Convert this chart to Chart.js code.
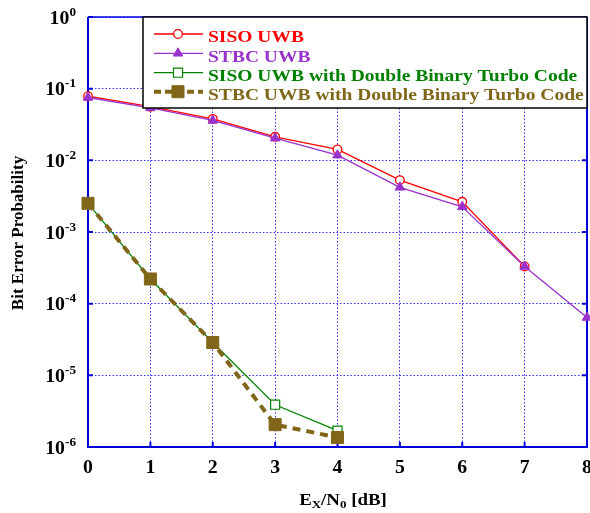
<!DOCTYPE html>
<html>
<head>
<meta charset="utf-8">
<script src="https://cdn.jsdelivr.net/npm/chart.js@4.4.1/dist/chart.umd.min.js"></script>
<style>
  html, body { margin: 0; padding: 0; background: #fff; }
  canvas { display: block; }
</style>
</head>
<body>
<canvas id="ber" width="590" height="513"></canvas>
<script>
// Eb/N0 in dB (x axis)
var snrDb = [0, 1, 2, 3, 4, 5, 6, 7, 8];

// bit error probability
var sisoUwb = [0.0785, 0.056, 0.0379, 0.0213, 0.0142, 0.0053, 0.00264, 0.00033];
var stbcUwb = [0.0753, 0.054, 0.036, 0.0204, 0.0118, 0.0042, 0.00225, 0.00033, 0.000064];
var sisoTurbo = [0.00251, 0.000221, 0.0000287, 0.00000389, 0.00000169];
var stbcTurbo = [0.00251, 0.000221, 0.0000287, 0.00000205, 0.00000136];

var seriesNames = [
  "SISO UWB",
  "STBC UWB",
  "SISO UWB with Double Binary Turbo Code",
  "STBC UWB with Double Binary Turbo Code"
];

var xTicks = [0, 1, 2, 3, 4, 5, 6, 7, 8];
var xTickLabels = ["0", "1", "2", "3", "4", "5", "6", "7", "8"];
var yTicks = [1e-6, 1e-5, 1e-4, 1e-3, 1e-2, 1e-1, 1];
var yTickExps = ["-6", "-5", "-4", "-3", "-2", "-1", "0"];

var SERIF = '"Liberation Serif", "Times New Roman", serif';
var AXIS_BLUE = "#0000dd";

var toPoints = function( values ){
    return values.map(function( v, i ){ return { x: snrDb[i], y: v }; });
};

// text with a little horizontal stretch, like the original figure
var drawText = function( ctx, text, x, y, font, sx, align ){
    ctx.save();
    ctx.font = font;
    var w = ctx.measureText( text ).width * sx;
    var left = x;
    if ( align === "center" ) left = x - w / 2;
    if ( align === "right" ) left = x - w;
    ctx.translate( left, y );
    ctx.scale( sx, 1 );
    ctx.textAlign = "left";
    ctx.textBaseline = "alphabetic";
    ctx.fillText( text, 0, 0 );
    ctx.restore();
    return w;
};

var textWidth = function( ctx, text, font, sx ){
    ctx.save();
    ctx.font = font;
    var w = ctx.measureText( text ).width * sx;
    ctx.restore();
    return w;
};

var figurePlugin = {
    id: "figure",
    beforeDatasetsDraw: function( chart ){
        var ctx = chart.ctx, a = chart.chartArea;
        var xs = chart.scales.x, ys = chart.scales.y;
        ctx.save();
        ctx.strokeStyle = AXIS_BLUE;
        ctx.setLineDash([]);
        // frame
        ctx.lineWidth = 1.5;
        ctx.beginPath(); ctx.moveTo( a.left, a.top ); ctx.lineTo( a.right, a.top ); ctx.stroke();
        ctx.lineWidth = 2;
        ctx.beginPath();
        ctx.moveTo( a.left, a.top ); ctx.lineTo( a.left, a.bottom ); ctx.lineTo( a.right, a.bottom ); ctx.lineTo( a.right, a.top );
        ctx.stroke();
        // inward tick marks
        xTicks.forEach(function( v ){
            var px = xs.getPixelForValue( v );
            ctx.beginPath();
            ctx.moveTo( px, a.bottom ); ctx.lineTo( px, a.bottom - 5 );
            ctx.moveTo( px, a.top ); ctx.lineTo( px, a.top + 5 );
            ctx.stroke();
        });
        yTicks.forEach(function( v ){
            var py = ys.getPixelForValue( v );
            ctx.beginPath();
            ctx.moveTo( a.left, py ); ctx.lineTo( a.left + 5, py );
            ctx.moveTo( a.right, py ); ctx.lineTo( a.right - 5, py );
            ctx.stroke();
        });
        ctx.restore();
    },
    afterDraw: function( chart ){
        var ctx = chart.ctx, a = chart.chartArea;
        var xs = chart.scales.x, ys = chart.scales.y;
        ctx.save();
        ctx.fillStyle = "#000";

        // y tick labels 10^n
        var baseFont = "bold 18px " + SERIF;
        var expFont = "bold 12px " + SERIF;
        yTicks.forEach(function( v, i ){
            var py = ys.getPixelForValue( v );
            var ew = textWidth( ctx, yTickExps[i], expFont, 1.1 );
            var bw = textWidth( ctx, "10", baseFont, 1.1 );
            var right = a.left - 12;
            drawText( ctx, "10", right - ew - bw, py + 6.5, baseFont, 1.1, "left" );
            drawText( ctx, yTickExps[i], right - ew, py - 1.5, expFont, 1.1, "left" );
        });

        // x tick labels
        xTicks.forEach(function( v, i ){
            var px = xs.getPixelForValue( v );
            drawText( ctx, xTickLabels[i], px, a.bottom + 26, "bold 18px " + SERIF, 1.1, "center" );
        });

        // x title: E_X/N_0 [dB]
        var tf = "bold 16px " + SERIF, sf = "bold 11px " + SERIF, sx = 1.18;
        var parts = [ ["E", tf, 0], ["X", sf, 3], ["/N", tf, 0], ["0", sf, 3], [" [dB]", tf, 0] ];
        var total = 0;
        parts.forEach(function( p ){ total += textWidth( ctx, p[0], p[1], sx ); });
        var cx = 343 - total / 2;
        parts.forEach(function( p ){
            cx += drawText( ctx, p[0], cx, 505 + p[2], p[1], sx, "left" );
        });

        // y title
        ctx.save();
        ctx.translate( 23, 233 );
        ctx.rotate( -Math.PI / 2 );
        ctx.font = "bold 17px " + SERIF;
        ctx.textAlign = "center";
        ctx.textBaseline = "alphabetic";
        ctx.fillText( "Bit Error Probability", 0, 0 );
        ctx.restore();

        // legend box
        var bx = 143, by = a.top, bw2 = a.right - 143, bh = 91;
        ctx.fillStyle = "#fff";
        ctx.fillRect( bx, by, bw2, bh );
        ctx.strokeStyle = "#000";
        ctx.lineWidth = 1.5;
        ctx.strokeRect( bx, by, bw2, bh );

        var rows = [ 34, 53.3, 72.7, 91.7 ];
        var legendOrder = [ 0, 1, 2, 3 ];
        legendOrder.forEach(function( di, r ){
            var ds = chart.data.datasets[di];
            var ly = rows[r];
            ctx.save();
            ctx.strokeStyle = ds.borderColor;
            ctx.lineWidth = ds.borderWidth;
            ctx.setLineDash( ds.legendDash || [] );
            ctx.beginPath(); ctx.moveTo( 154, ly ); ctx.lineTo( 203, ly ); ctx.stroke();
            ctx.setLineDash([]);
            ctx.fillStyle = ds.pointBackgroundColor;
            ctx.strokeStyle = ds.pointBorderColor;
            ctx.lineWidth = ds.pointBorderWidth;
            Chart.helpers.drawPoint( ctx, {
                pointStyle: ds.pointStyle, radius: ds.pointRadius, rotation: 0, borderWidth: ds.pointBorderWidth
            }, 178, ly );
            ctx.restore();
            ctx.fillStyle = ds.borderColor;
            drawText( ctx, ds.label, 208, ly + 8.3, "bold 16px " + SERIF, 1.22, "left" );
        });
        ctx.restore();
    }
};

var ctx = document.getElementById( "ber" ).getContext( "2d" );
var chart = new Chart( ctx, {
    type: "line",
    data: {
        datasets: [
            {
                label: seriesNames[0], data: toPoints( sisoUwb ), order: 3,
                borderColor: "#ff0000", borderWidth: 1.3,
                pointStyle: "circle", pointRadius: 4.3,
                pointBackgroundColor: "#ffffff", pointBorderColor: "#ff0000", pointBorderWidth: 1.3
            },
            {
                label: seriesNames[1], data: toPoints( stbcUwb ), order: 2,
                borderColor: "#9932cc", borderWidth: 1.3,
                pointStyle: "triangle", pointRadius: 5.5,
                pointBackgroundColor: "#9932cc", pointBorderColor: "#9932cc", pointBorderWidth: 1
            },
            {
                label: seriesNames[2], data: toPoints( sisoTurbo ), order: 1,
                borderColor: "#008000", borderWidth: 1.2,
                pointStyle: "rect", pointRadius: 6.4,
                pointBackgroundColor: "#ffffff", pointBorderColor: "#008000", pointBorderWidth: 1.2
            },
            {
                label: seriesNames[3], data: toPoints( stbcTurbo ), order: 0,
                borderColor: "#806619", borderWidth: 4, borderDash: [8, 6], legendDash: [7, 4],
                pointStyle: "rect", pointRadius: 8.5,
                pointBackgroundColor: "#806619", pointBorderColor: "#806619", pointBorderWidth: 1
            }
        ]
    },
    options: {
        responsive: false,
        animation: false,
        devicePixelRatio: 1,
        layout: { autoPadding: false, padding: { left: 88, right: 3, top: 17, bottom: 66 } },
        datasets: { line: { clip: false, tension: 0, fill: false } },
        plugins: { legend: { display: false }, tooltip: { enabled: false } },
        scales: {
            x: {
                type: "linear", min: 0, max: 8,
                ticks: { display: false, stepSize: 1 },
                grid: { color: "rgba(0,0,255,0.8)", lineWidth: 1, drawTicks: false },
                border: { display: false, dash: [1.5, 2] }
            },
            y: {
                type: "logarithmic", min: 1e-6, max: 1,
                afterBuildTicks: function( axis ){
                    axis.ticks = yTicks.map(function( v ){ return { value: v }; });
                },
                ticks: { display: false },
                grid: { color: "rgba(0,0,255,0.8)", lineWidth: 1, drawTicks: false },
                border: { display: false, dash: [1.5, 2] }
            }
        }
    },
    plugins: [ figurePlugin ]
});
</script>
</body>
</html>
